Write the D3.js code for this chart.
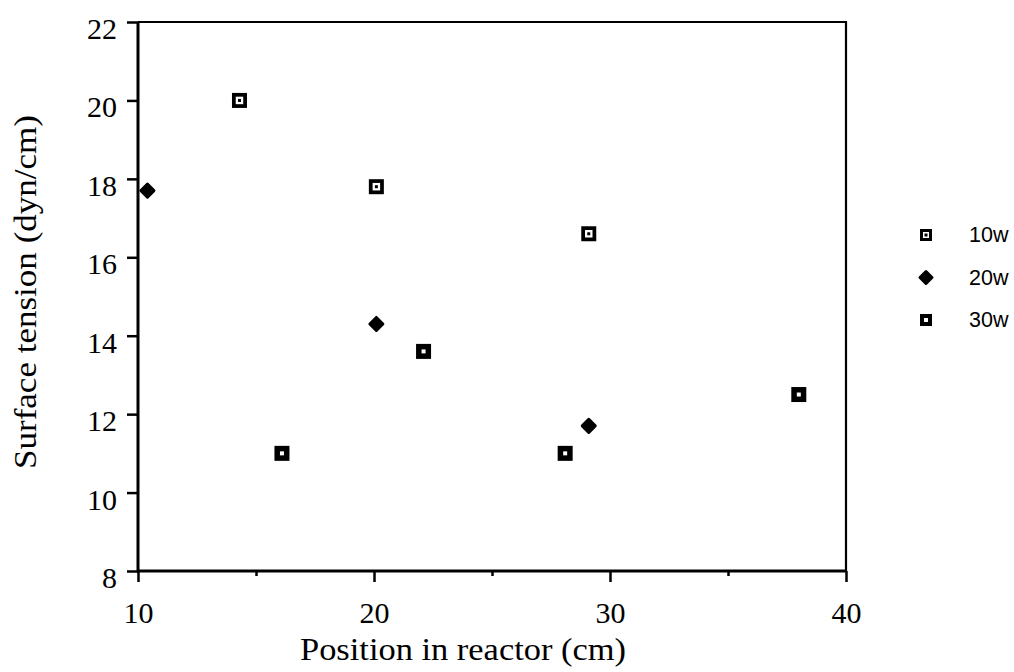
<!DOCTYPE html>
<html>
<head>
<meta charset="utf-8">
<script src="https://cdn.jsdelivr.net/npm/d3@7"></script>
<style>
  body { margin: 0; background: #fff; }
  svg { display: block; }
  .tick text { font-family: "Liberation Serif", serif; font-size: 30px; fill: #000; }
  .title { font-family: "Liberation Serif", serif; font-size: 32px; fill: #000; }
</style>
</head>
<body>
<svg id="chart"></svg>
<script>
// values
var seriesNames = ["10w", "20w", "30w"];
var pos10w = [14.3, 20.1, 29.1];
var tension10w = [20.0, 17.8, 16.6];
var pos20w = [10.4, 20.1, 29.1];
var tension20w = [17.7, 14.3, 11.7];
var pos30w = [16.1, 22.1, 28.1, 38.0];
var tension30w = [11.0, 13.6, 11.0, 12.5];
var xTicks = [10, 20, 30, 40];
var xMinorTicks = [15, 25, 35];
var yTicks = [8, 10, 12, 14, 16, 18, 20, 22];

var svg = d3.select("#chart").attr("width", 1014).attr("height", 672);

var x = d3.scaleLinear().domain([10, 40]).range([138, 846]);
var y = d3.scaleLinear().domain([8, 22]).range([571, 22]);

// frame: left and bottom drawn heavier, like the scan
svg.append("path")
  .attr("d", "M" + x(10) + "," + y(22) + "H" + x(40) + "V" + y(8))
  .attr("fill", "none").attr("stroke", "#000").attr("stroke-width", 2.2);
svg.append("path")
  .attr("d", "M" + x(10) + "," + y(22) + "V" + y(8) + "H" + x(40))
  .attr("fill", "none").attr("stroke", "#000").attr("stroke-width", 3);

// x axis
var xAxis = svg.append("g")
  .attr("transform", "translate(0," + y(8) + ")")
  .call(d3.axisBottom(x).tickValues(xTicks).tickSize(11).tickPadding(20).tickFormat(d3.format("d")));
xAxis.select(".domain").remove();
xAxis.selectAll(".tick line").attr("stroke-width", 2.5);

var xMinor = svg.append("g")
  .attr("transform", "translate(0," + y(8) + ")")
  .call(d3.axisBottom(x).tickValues(xMinorTicks).tickSize(5).tickFormat(""));
xMinor.select(".domain").remove();
xMinor.selectAll(".tick line").attr("stroke-width", 2.5);

// y axis
var yAxis = svg.append("g")
  .attr("transform", "translate(" + x(10) + ",0)")
  .call(d3.axisLeft(y).tickValues(yTicks).tickSize(11).tickPadding(10).tickFormat(d3.format("d")));
yAxis.select(".domain").remove();
yAxis.selectAll(".tick line").attr("stroke-width", 2.5);
yAxis.selectAll(".tick text").attr("dy", "0.55em");

// axis titles
svg.append("text")
  .attr("class", "title")
  .attr("x", 463).attr("y", 660)
  .attr("text-anchor", "middle")
  .attr("textLength", 326).attr("lengthAdjust", "spacingAndGlyphs")
  .text("Position in reactor (cm)");

svg.append("text")
  .attr("class", "title")
  .attr("transform", "translate(36,292) rotate(-90)")
  .attr("text-anchor", "middle")
  .attr("textLength", 354).attr("lengthAdjust", "spacingAndGlyphs")
  .text("Surface tension (dyn/cm)");

// marker drawers
function drawSquareRing(g, cx, cy, s) {
  g.append("rect").attr("x", cx - s / 2).attr("y", cy - s / 2).attr("width", s).attr("height", s).attr("fill", "#000");
  var w = s * 0.5;
  g.append("rect").attr("x", cx - w / 2).attr("y", cy - w / 2).attr("width", w).attr("height", w).attr("fill", "#fff");
  g.append("rect").attr("x", cx - 1.5).attr("y", cy - 1.5).attr("width", 3).attr("height", 3).attr("fill", "#000");
}
function drawDiamond(g, cx, cy, s) {
  var h = s / 2 - 1;
  g.append("path")
    .attr("d", "M" + cx + "," + (cy - h) + "L" + (cx + h) + "," + cy + "L" + cx + "," + (cy + h) + "L" + (cx - h) + "," + cy + "Z")
    .attr("fill", "#000").attr("stroke", "#000").attr("stroke-width", 3).attr("stroke-linejoin", "round");
}
function drawSquareDot(g, cx, cy, s) {
  g.append("rect").attr("x", cx - s / 2).attr("y", cy - s / 2).attr("width", s).attr("height", s).attr("fill", "#000");
  g.append("rect").attr("x", cx - 2).attr("y", cy - 2).attr("width", 4).attr("height", 4).attr("fill", "#fff");
}

var marks = svg.append("g");
pos10w.forEach(function(d, i) { drawSquareRing(marks, x(d), y(tension10w[i]), 15); });
pos20w.forEach(function(d, i) { drawDiamond(marks, x(d), y(tension20w[i]), 15); });
pos30w.forEach(function(d, i) { drawSquareDot(marks, x(d), y(tension30w[i]), 15); });

// legend
var drawers = [drawSquareRing, drawDiamond, drawSquareDot];
var legend = svg.append("g");
seriesNames.forEach(function(name, i) {
  var cy = 235 + i * 42.5;
  drawers[i](legend, 926, cy, i === 1 ? 14 : 12);
  legend.append("text")
    .attr("x", 969).attr("y", cy + 7)
    .style("font-family", "Liberation Sans, Arial, sans-serif").style("font-size", "21.5px")
    .text(name);
});
</script>
</body>
</html>
